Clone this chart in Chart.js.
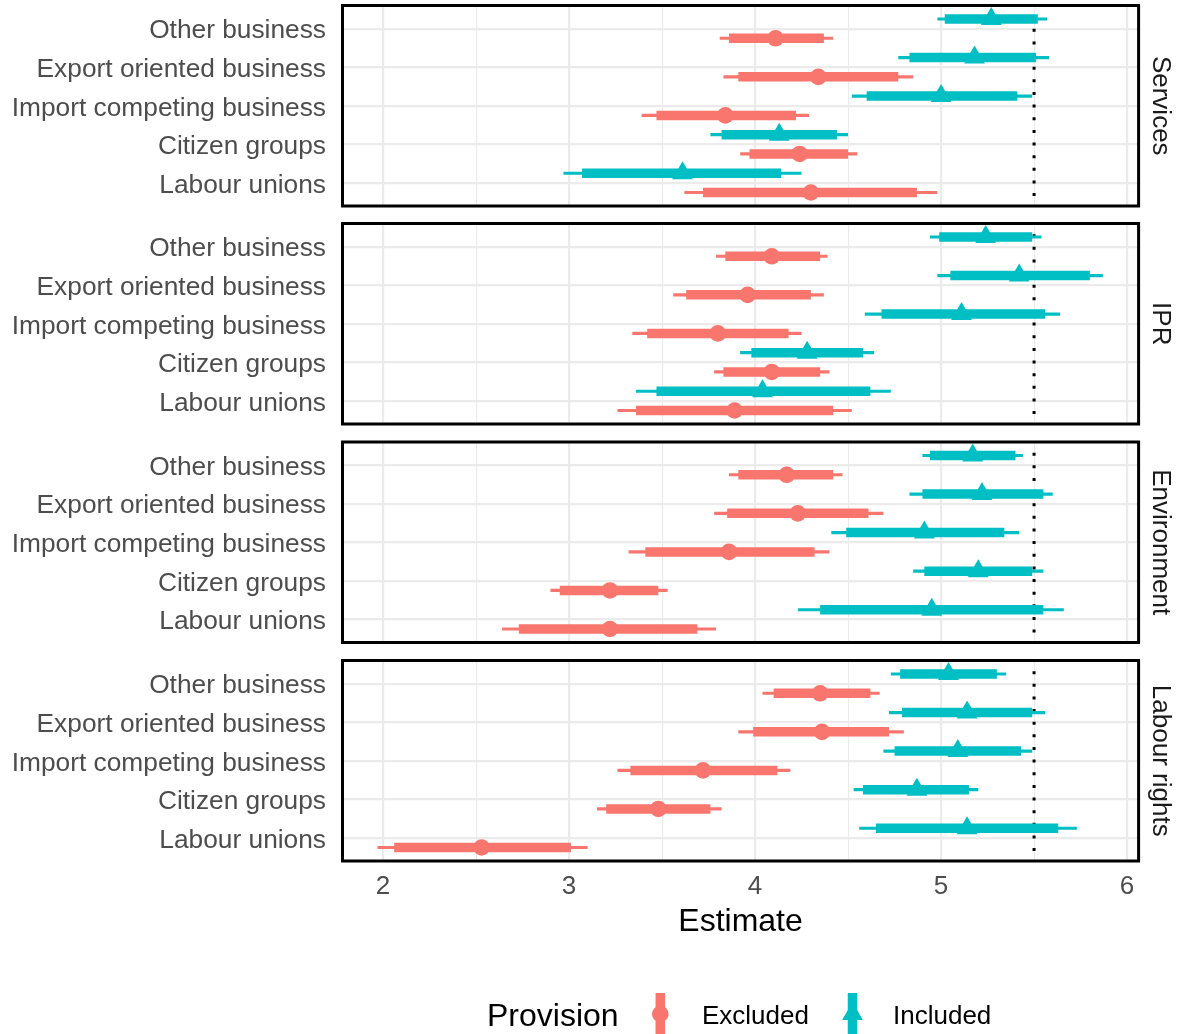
<!DOCTYPE html>
<html>
<head>
<meta charset="utf-8">
<script src="https://cdn.jsdelivr.net/npm/chart.js@4.4.1/dist/chart.umd.min.js"></script>
<style>
html,body{margin:0;padding:0;background:#ffffff;}
#wrap{position:relative;width:1182px;height:1034px;overflow:hidden;background:#ffffff;}
#wrap canvas{position:absolute;left:0;}
#legend{position:absolute;left:0;top:0;pointer-events:none;}
</style>
</head>
<body>
<div id="wrap">
<canvas id="p0" width="1182" height="218" style="top:0px"></canvas>
<canvas id="p1" width="1182" height="218" style="top:218px"></canvas>
<canvas id="p2" width="1182" height="218" style="top:436px"></canvas>
<canvas id="p3" width="1182" height="290" style="top:654px"></canvas>
<svg id="legend" width="1182" height="1034" xmlns="http://www.w3.org/2000/svg"></svg>
</div>
<script>
// ---------------- data ----------------
const categories = ["Other business", "Export oriented business", "Import competing business", "Citizen groups", "Labour unions"];
const panelNames = ["Services", "IPR", "Environment", "Labour rights"];
const seriesNames = ["Excluded", "Included"];
const xTickValues = [2, 3, 4, 5, 6];
const xMinorTickValues = [2.5, 3.5, 4.5, 5.5];
const referenceLine = 5.5;

// each row (in categories order): [estimate, outer low, inner low, inner high, outer high]
const servicesExcluded = [
  [4.11, 3.81, 3.86, 4.37, 4.42],
  [4.34, 3.83, 3.91, 4.77, 4.85],
  [3.84, 3.39, 3.47, 4.22, 4.29],
  [4.24, 3.92, 3.97, 4.50, 4.55],
  [4.30, 3.62, 3.72, 4.87, 4.98]
];
const servicesIncluded = [
  [5.27, 4.98, 5.02, 5.52, 5.57],
  [5.18, 4.77, 4.83, 5.51, 5.58],
  [5.00, 4.52, 4.60, 5.41, 5.49],
  [4.13, 3.76, 3.82, 4.44, 4.50],
  [3.61, 2.97, 3.07, 4.14, 4.25]
];
const iprExcluded = [
  [4.09, 3.79, 3.84, 4.35, 4.39],
  [3.96, 3.56, 3.63, 4.30, 4.37],
  [3.80, 3.34, 3.42, 4.18, 4.25],
  [4.09, 3.78, 3.83, 4.35, 4.40],
  [3.89, 3.26, 3.36, 4.42, 4.52]
];
const iprIncluded = [
  [5.24, 4.94, 4.99, 5.49, 5.54],
  [5.42, 4.98, 5.05, 5.80, 5.87],
  [5.11, 4.59, 4.68, 5.56, 5.64],
  [4.28, 3.92, 3.98, 4.58, 4.64],
  [4.04, 3.36, 3.47, 4.62, 4.73]
];
const environmentExcluded = [
  [4.17, 3.86, 3.91, 4.42, 4.47],
  [4.23, 3.78, 3.85, 4.61, 4.69],
  [3.86, 3.32, 3.41, 4.32, 4.40],
  [3.22, 2.90, 2.95, 3.48, 3.53],
  [3.22, 2.64, 2.73, 3.69, 3.79]
];
const environmentIncluded = [
  [5.17, 4.90, 4.94, 5.40, 5.44],
  [5.22, 4.83, 4.90, 5.55, 5.60],
  [4.91, 4.41, 4.49, 5.34, 5.42],
  [5.20, 4.85, 4.91, 5.49, 5.55],
  [4.95, 4.23, 4.35, 5.55, 5.66]
];
const labourExcluded = [
  [4.35, 4.04, 4.10, 4.62, 4.67],
  [4.36, 3.91, 3.99, 4.72, 4.80],
  [3.72, 3.26, 3.33, 4.12, 4.19],
  [3.48, 3.15, 3.20, 3.76, 3.82],
  [2.53, 1.97, 2.06, 3.01, 3.10]
];
const labourIncluded = [
  [5.04, 4.73, 4.78, 5.30, 5.35],
  [5.14, 4.72, 4.79, 5.49, 5.56],
  [5.09, 4.69, 4.75, 5.43, 5.49],
  [4.87, 4.53, 4.58, 5.15, 5.20],
  [5.14, 4.56, 4.65, 5.63, 5.73]
];

// ---------------- styling / layout ----------------
const panelSeries = [
  [servicesExcluded, servicesIncluded],
  [iprExcluded, iprIncluded],
  [environmentExcluded, environmentIncluded],
  [labourExcluded, labourIncluded]
];
const seriesColors = ["#F8766D", "#00BFC4"];
const seriesStyles = ["circle", "triangle"];
const seriesRadius = [8.3, 12];
const seriesOffset = [0.25, -0.25];
const FONT = "'Liberation Sans', Arial, Helvetica, sans-serif";
const padTop = [5.5, 5.5, 6, 6.5];
const canvasH = [218, 218, 218, 290];
const PANEL_H = 200.5;
const XAXIS_H = 80.5;

const panelBorder = {
  id: 'panelBorder',
  afterDraw(chart) {
    const {ctx, chartArea: a} = chart;
    ctx.save();
    ctx.strokeStyle = '#000000';
    ctx.lineWidth = 3;
    ctx.strokeRect(a.left, a.top, a.right - a.left, a.bottom - a.top);
    ctx.restore();
  }
};

function noPad(s) {
  s.paddingTop = 0; s.paddingBottom = 0; s.paddingLeft = 0; s.paddingRight = 0;
}

function makePanel(i) {
  const isLast = i === panelNames.length - 1;
  const datasets = [];
  datasets.push({
    label: 'reference',
    data: [{x: referenceLine, y: 0.4}, {x: referenceLine, y: 5.6}],
    showLine: true, borderColor: '#000000', borderWidth: 3,
    borderDash: [3, 9.64], borderDashOffset: 2, borderCapStyle: 'butt',
    pointRadius: 0, order: 10
  });
  seriesNames.forEach((name, si) => {
    const rows = panelSeries[i][si];
    const outer = [], inner = [], est = [];
    rows.forEach((r, ci) => {
      const y = ci + 1 + seriesOffset[si];
      outer.push({x: r[1], y: y}, {x: r[4], y: y}, {x: null, y: null});
      inner.push({x: r[2], y: y}, {x: r[3], y: y}, {x: null, y: null});
      est.push({x: r[0], y: y});
    });
    datasets.push({label: name + ' outer', data: outer, showLine: true, spanGaps: false,
      borderColor: seriesColors[si], borderWidth: 3.2, borderCapStyle: 'butt', pointRadius: 0, order: 6});
    datasets.push({label: name + ' inner', data: inner, showLine: true, spanGaps: false,
      borderColor: seriesColors[si], borderWidth: 9.5, borderCapStyle: 'butt', pointRadius: 0, order: 5});
    datasets.push({label: name, data: est, showLine: false,
      pointStyle: seriesStyles[si], pointRadius: seriesRadius[si], pointHoverRadius: seriesRadius[si],
      backgroundColor: seriesColors[si], borderColor: seriesColors[si], borderWidth: 0, order: 4});
  });

  const chartBottom = padTop[i] + PANEL_H;
  const xh = isLast ? XAXIS_H : 0;
  const padBottom = canvasH[i] - chartBottom - xh;

  return new Chart(document.getElementById('p' + i), {
    type: 'scatter',
    data: {datasets},
    plugins: [panelBorder],
    options: {
      responsive: false,
      animation: false,
      devicePixelRatio: 1,
      events: [],
      layout: {autoPadding: false, padding: {top: padTop[i], bottom: padBottom, left: 0, right: 0}},
      plugins: {legend: {display: false}, tooltip: {enabled: false}},
      scales: {
        x: {
          type: 'linear', min: 1.782, max: 6.062, position: 'bottom',
          afterBuildTicks: s => {
            s.ticks = xTickValues.concat(xMinorTickValues).sort((a, b) => a - b).map(v => ({value: v}));
          },
          ticks: {
            display: isLast, autoSkip: false, maxRotation: 0, padding: 10,
            color: '#4D4D4D', font: {family: FONT, size: 26},
            callback: v => xTickValues.includes(v) ? String(v) : ''
          },
          grid: {
            color: '#EBEBEB', drawTicks: false,
            lineWidth: c => (c.tick && xTickValues.includes(c.tick.value)) ? 2.2 : 1.1
          },
          border: {display: false},
          title: {display: isLast, text: 'Estimate', color: '#000000',
            font: {family: FONT, size: 32}, padding: {top: 0, bottom: 0}},
          afterFit: s => { s.height = xh; noPad(s); }
        },
        y: {
          type: 'linear', reverse: true, min: 0.4, max: 5.6, position: 'left',
          afterBuildTicks: s => { s.ticks = categories.map((c, ci) => ({value: ci + 1})); },
          ticks: {
            autoSkip: false, padding: 16.5, labelOffset: 2.5, color: '#4D4D4D', font: {family: FONT, size: 26.3},
            callback: v => categories[Math.round(v) - 1] || ''
          },
          grid: {color: '#EBEBEB', lineWidth: 2.2, drawTicks: false},
          border: {display: false},
          afterFit: s => { s.width = 342.5; noPad(s); }
        },
        strip: {
          type: 'linear', position: 'right', display: true,
          ticks: {display: false},
          grid: {display: false, drawTicks: false},
          border: {display: false},
          title: {display: true, text: panelNames[i], color: '#1A1A1A',
            font: {family: FONT, size: 26}, padding: {top: 6.4, bottom: 0}},
          afterFit: s => { s.width = 43.4; noPad(s); }
        }
      }
    }
  });
}

panelNames.forEach((p, i) => makePanel(i));

// ---------------- legend ----------------
(function buildLegend() {
  const svg = document.getElementById('legend');
  const NS = 'http://www.w3.org/2000/svg';
  function el(tag, attrs, text) {
    const e = document.createElementNS(NS, tag);
    for (const k in attrs) e.setAttribute(k, attrs[k]);
    if (text !== undefined) e.textContent = text;
    svg.appendChild(e);
    return e;
  }
  const cy = 1014;
  el('text', {x: 487, y: 1025.5, 'font-family': FONT, 'font-size': 32, fill: '#000000'}, 'Provision');
  const keyX = [660.3, 852.5];
  const textX = [702, 893];
  seriesNames.forEach((name, si) => {
    const kx = keyX[si];
    el('rect', {x: kx - 4.75, y: 993, width: 9.5, height: 42, fill: seriesColors[si]});
    if (seriesStyles[si] === 'circle') {
      el('circle', {cx: kx, cy: cy, r: seriesRadius[si], fill: seriesColors[si]});
    } else {
      const r = seriesRadius[si];
      const pts = [
        [kx, cy - r],
        [kx + Math.sin(2 * Math.PI / 3) * r, cy - Math.cos(2 * Math.PI / 3) * r],
        [kx + Math.sin(4 * Math.PI / 3) * r, cy - Math.cos(4 * Math.PI / 3) * r]
      ].map(p => p.join(',')).join(' ');
      el('polygon', {points: pts, fill: seriesColors[si]});
    }
    el('text', {x: textX[si], y: 1023.5, 'font-family': FONT, 'font-size': 26, fill: '#000000'}, name);
  });
})();
</script>
</body>
</html>
